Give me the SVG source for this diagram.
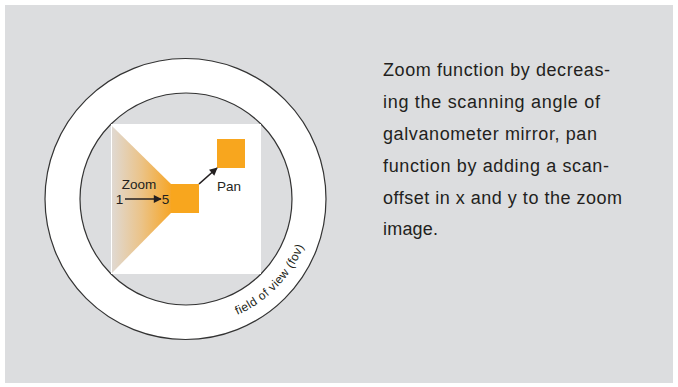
<svg xmlns="http://www.w3.org/2000/svg" width="678" height="387" viewBox="0 0 678 387">
<defs>
<linearGradient id="zg" x1="0" y1="0" x2="1" y2="0">
<stop offset="0" stop-color="#e0d9d2"/>
<stop offset="0.5" stop-color="#ebc388"/>
<stop offset="1" stop-color="#f6a628"/>
</linearGradient>
<marker id="ah" viewBox="0 0 10 10" refX="9" refY="5" markerWidth="9" markerHeight="8" markerUnits="userSpaceOnUse" orient="auto">
<path d="M0,0 L10,5 L0,10 z" fill="#231f20"/>
</marker>
<path id="fovpath" d="M229.4,318.3 A127,127 0 0 0 306.8,238.2" fill="none"/>
</defs>
<style>
.bg{fill:#dcdddf}
.ring{fill:#ffffff;stroke:#333;stroke-width:1.2}
.disc{fill:#dcdddf;stroke:#333;stroke-width:1.2}
.org{fill:#f8a61e}
.lbl{font-family:"Liberation Sans",Arial,sans-serif;font-size:13.5px;fill:#231f20}
.body{font-family:"Liberation Sans",Arial,sans-serif;font-size:18px;fill:#231f20}
.fov{font-family:"Liberation Sans",Arial,sans-serif;font-size:12px;fill:#231f20}
.arr{stroke:#231f20;stroke-width:1.6;fill:none}
</style>
<rect class="bg" x="5" y="5" width="668" height="378"/>
<g id="fov">
<circle class="ring" cx="185.5" cy="199" r="140.5"/>
<circle class="disc" cx="186" cy="199" r="106"/>
<text class="fov" text-anchor="middle"><textPath href="#fovpath" startOffset="50%" textLength="98" lengthAdjust="spacing">field of view (fov)</textPath></text>
</g>
<g id="image">
<rect x="111" y="124" width="150" height="150" fill="#ffffff"/>
<polygon points="112,126 171,184 171,213 112,273" fill="url(#zg)"/>
</g>
<g id="zoomed">
<rect class="org" x="171" y="184" width="28" height="29"/>
</g>
<g id="panned">
<rect class="org" x="217" y="139" width="28" height="29"/>
</g>
<g id="connectors">
<line class="arr" x1="125" y1="199" x2="161" y2="199" marker-end="url(#ah)"/>
<line class="arr" x1="199" y1="184" x2="217" y2="168" marker-end="url(#ah)"/>
</g>
<g id="labels">
<text class="lbl" x="139" y="189" text-anchor="middle">Zoom</text>
<text class="lbl" x="119.5" y="204" text-anchor="middle">1</text>
<text class="lbl" x="165.5" y="204" text-anchor="middle">5</text>
<text class="lbl" x="229" y="191" text-anchor="middle">Pan</text>
</g>
<g id="caption">
<text class="body" x="383" y="76" textLength="227" lengthAdjust="spacing">Zoom function by decreas-</text>
<text class="body" x="383" y="108" textLength="217" lengthAdjust="spacing">ing the scanning angle of</text>
<text class="body" x="383" y="140" textLength="214" lengthAdjust="spacing">galvanometer mirror, pan</text>
<text class="body" x="383" y="172" textLength="226" lengthAdjust="spacing">function by adding a scan-</text>
<text class="body" x="383" y="204" textLength="239" lengthAdjust="spacing">offset in x and y to the zoom</text>
<text class="body" x="383" y="235" textLength="55" lengthAdjust="spacing">image.</text>
</g>
</svg>
